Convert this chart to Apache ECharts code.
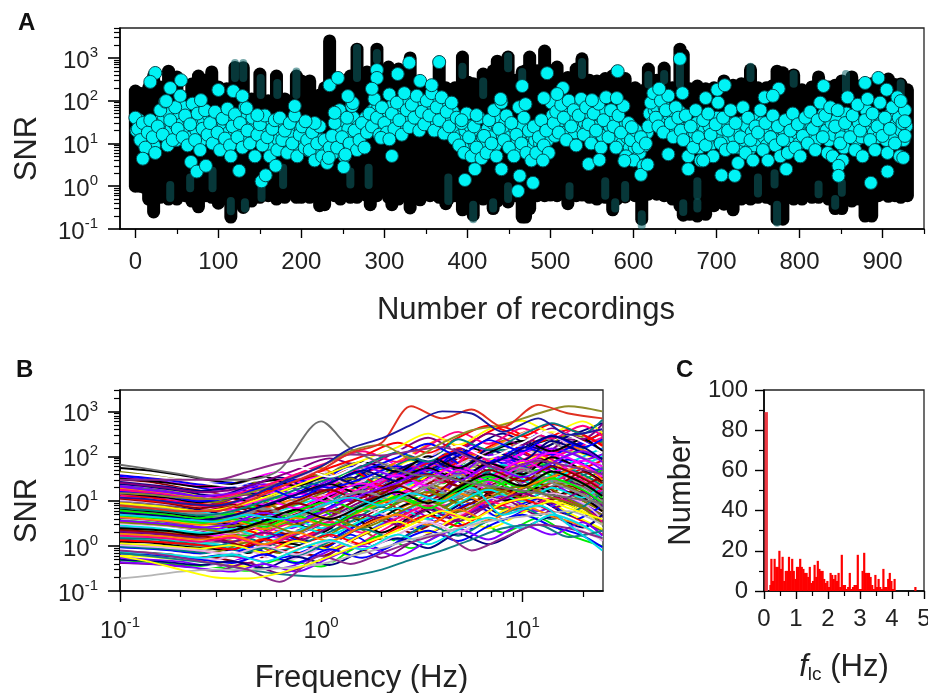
<!DOCTYPE html>
<html><head><meta charset="utf-8">
<style>html,body{margin:0;padding:0;background:#fff}#c{width:928px;height:693px}</style>
<script src="https://cdn.jsdelivr.net/npm/echarts@6/dist/echarts.min.js"></script>
</head><body><div id="c"></div>
<script>
// Panel A: envelope of the dense dark marker columns (x, lowest, highest marker)
const columnX=[0,5,10,16,22,30,40,50,60,68,76,85,92,100,110,115,120,130,140,150,160,170,180,194,200,210,222,228,234,240,247,259,267,279,283,291,305,309,317,331,343,355,366,374,377,385,394,401,407,419,431,436,449,458,466,470,475,484,493,500,508,521,531,538,547,556,566,575,580,590,602,610,618,628,637,647,656,660,668,677,687,697,709,720,730,741,750,760,767,773,780,793,803,815,823,835,843,851,863,872,879,887,895,907,915,922,930];
const columnLow=[1,1,.95,.5,.25,.55,.5,.5,.6,.45,.33,.6,.55,.4,.5,.19,.55,.32,.45,.55,.6,.5,.55,.55,.55,.55,.35,.37,.7,.6,.5,.55,.55,.6,.37,.6,.55,.37,.5,.31,.48,.6,.55,.39,.5,.6,.28,.4,.21,.5,.3,.45,.43,.6,.19,.19,.3,.6,.6,.62,.6,.39,.6,.62,.55,.5,.55,.28,.5,.56,.6,.17,.65,.65,.6,.5,.35,.21,.22,.2,.22,.35,.38,.28,.5,.5,.55,.55,.5,.17,.17,.5,.5,.55,.55,.5,.3,.3,.45,.5,.2,.2,.6,.58,.6,.55,.6];
const columnHigh=[168,150,145,200,380,210,490,360,122,245,375,300,470,210,190,190,600,590,110,420,100,375,110,375,290,290,135,200,2500,300,245,375,1600,470,300,1600,610,500,550,1000,270,200,800,200,145,200,1050,270,250,420,500,840,1050,300,470,500,1050,500,1450,500,610,350,550,950,300,290,330,380,470,330,200,170,550,300,580,200,1600,1200,190,220,190,200,290,230,250,525,200,200,220,490,450,400,180,210,360,210,230,290,360,220,220,250,320,320,240,245,180];
// Panel A: dark teal stretches visible inside the black mass
const tealX=[120,130,151,171,194,42,93,66,152,178,115,132,267,291,394,377,281,259,407,419,449,449,431,466,538,523,590,566,578,610,618,637,656,660,677,677,741,750,773,793,843,851,856,922,823,770];
const tealLow=[340,340,136,136,136,.53,.9,.9,.53,1.07,.26,.3,340,900,400,.45,1.07,1.1,.17,136,570,.5,.3,300,400,.6,.53,.6,.3,.12,240,300,240,.25,.3,.6,340,.68,.14,250,.35,.7,180,136,.65,1.1];
const tealHigh=[760,760,340,260,480,1.07,2.3,1.6,1.1,2.7,.45,.42,1700,1300,620,1.6,2.7,2.2,.37,280,1100,1,.42,470,800,1,1.07,1.3,.42,.22,400,420,760,.4,.42,1.3,620,1.6,.37,420,.5,1.2,420,260,1.1,2];
// Panel A: cyan markers, one every 3 recordings, in two interleaved runs
const cyanStep=3;
const cyanValues=[
40,22,12,30,8,18,35,14,6,25,
60,16,95,9,35,12,70,22,130,14,
45,9,28,85,12,50,7,22,60,16,
30,10,55,18,7,38,13,65,9,25,
48,14,30,8,70,20,10,40,5,16,
28,9,45,14,5,22,35,7,40,12,
20,6,30,10,45,5,16,25,8,12,
7,18,4,10,25,5,12,3.5,8,15,
30,8,60,14,5,40,10,75,20,7,
12,30,8,18,50,25,110,40,16,70,
30,18,140,50,22,90,35,16,150,60,
24,80,40,130,20,55,28,100,45,150,
20,70,35,120,17,55,25,90,13,40,
9,30,6,50,14,5,25,8,40,4.5,
15,6,35,10,60,5,22,90,12,45,
8,30,5,16,70,10,40,6,20,4,
25,6,14,35,9,20,6,90,30,55,
18,80,40,12,100,25,60,9,45,110,
16,70,28,10,50,20,85,8,35,120,
14,60,25,8,45,18,75,5,30,12,
4,20,8,14,3,10,25,90,150,40,
25,100,18,60,130,30,14,70,40,20,
12,45,5,25,8,60,14,4,35,9,
50,16,5,28,90,10,40,7,20,60,
8,30,3.5,14,70,6,40,12,4,25,
18,60,7,30,4,14,45,9,25,5,
12,35,6,20,50,8,28,5,15,40,
10,55,22,7,35,90,14,45,6,70,
5,25,60,10,4,30,120,14,45,7,
80,20,5,35,110,12,50,7,25,90,
15,40,6,22,70,10,120,5,30,60];
const cyanValuesMid=[
20,35,15,10,28,12,22,9,16,32,
25,40,18,50,22,30,12,45,28,70,
20,35,14,40,20,30,12,35,18,45,
20,35,12,28,14,25,40,18,30,15,
22,35,16,45,12,28,18,30,12,35,
15,25,12,30,9,18,28,12,20,30,
12,22,9,16,28,8,22,12,18,7,
12,8,15,6,12,9,7,5,10,6,
15,25,10,35,12,22,14,40,10,25,
18,30,40,25,30,60,35,70,25,45,
40,55,30,80,35,60,25,75,40,90,
35,60,28,70,35,100,45,65,30,80,
35,60,28,70,30,45,20,55,25,22,
15,12,20,10,25,12,9,18,7,14,
10,22,14,30,9,25,40,15,30,18,
14,9,22,12,8,25,14,10,8,15,
12,20,10,8,18,12,30,45,15,35,
25,35,18,60,30,45,18,70,25,40,
30,22,50,18,35,25,45,15,55,30,
25,40,12,20,30,10,25,14,8,18,
8,14,6,12,9,18,50,30,60,70,
40,30,70,35,45,60,25,35,55,30,
22,14,25,10,18,30,8,12,20,14,
25,10,18,40,12,22,9,30,14,28,
14,20,8,30,12,25,7,18,9,35,
12,30,14,9,22,28,10,16,12,22,
20,12,25,35,14,18,10,30,22,12,
18,25,40,12,22,30,50,20,12,30,
16,35,22,14,8,50,30,20,25,12,
30,14,20,60,25,35,18,40,14,30,
25,12,35,50,16,28,40,20,12,25];
// Panel A: individually readable cyan markers
const cyanOutX=[24,18,55,37,42,100,118,129,134,147,79,192,216,205,9,67,74,85,125,152,157,169,115,234,244,262,256,240,291,291,316,285,330,366,343,357,309,296,306,251,253,233,397,409,441,461,463,466,470,440,411,393,496,515,508,492,550,581,580,479,546,559,589,609,617,642,666,684,631,656,659,687,701,710,491,598,829,879,895,905,775,758,768,886,906,784,847,847,925,927,927,922,706,722];
const cyanOutY=[444,275,300,98,198,178,167,128,67,46,103,75,30,33,4.4,3.7,2.2,3,2.3,1.3,1.8,3,5,230,340,88,128,52,520,340,420,190,770,800,290,230,5.1,13.5,12.5,2.8,5.5,4.6,1.4,2.5,2.5,.77,1.75,220,83,110,46,35,440,198,143,115,103,490,115,1.2,3.3,4.1,3.9,1.85,3.2,5.6,2.5,4,190,950,150,115,180,230,4,24,220,260,340,180,190,120,130,1.2,2.2,2.5,3,1.75,4.6,15,33,98,1.8,1.75];
const panelAXTicks=[0,100,200,300,400,500,600,700,800,900];
const panelAXMinor=[50,150,250,350,450,550,650,750,850,950];
const decadeTicks=[.1,1,10,100,1000];
const decadeMinor=[.2,.3,.4,.5,.6,.7,.8,.9,2,3,4,5,6,7,8,9,20,30,40,50,60,70,80,90,200,300,400,500,600,700,800,900,2000,3000,4000,5000];
// Panel B
const freqHz=[.1,.14,.2,.3,.43,.62,1,1.4,2,2.8,4,5.6,8,12,17,25];
const freqHzAlt=[.1,.17,.25,.36,.52,.75,1.1,1.6,2.4,3.4,4.8,6.8,10,14,20,25];
const freqTicks=[.1,1,10];
const freqMinor=[.2,.3,.4,.5,.6,.7,.8,.9,2,3,4,5,6,7,8,9,20];
const lineColors=['#000000','#ff0000','#00ee00','#0000ff','#00e5e5','#ff00ff','#ffff00','#808000','#000080','#800080','#900000','#008080','#ff8000','#8000ff','#ff0080','#8a8a8a','#ffffff','#e6b0e6'];
const snrLines=[
[55,48,38,28,25,30,22,50,35,90,60,150,90,200,280,120],
[45,38,30,22,28,18,40,25,70,45,120,80,220,130,300,200],
[40,34,27,20,14,24,12,30,55,28,80,40,120,70,160,90],
[35,30,24,18,25,12,28,60,22,100,50,180,70,300,150,350],
[30,27,20,15,10,22,35,14,45,25,60,110,45,90,50,25],
[28,24,19,14,20,9,16,40,70,35,140,60,250,110,200,60],
[25,21,16,12,8,15,30,18,35,80,30,55,100,60,130,80],
[22,19,15,11,16,25,10,22,12,40,90,35,65,150,70,110],
[20,18,14,10,7,12,20,45,20,55,25,90,40,70,35,18],
[18,16,12,9,14,7,18,10,25,50,100,45,170,90,240,130],
[16,14,11,8,6,11,8,20,40,18,35,70,30,55,25,12],
[14,12.5,10,7.5,11,18,35,14,30,65,28,130,60,180,85,45],
[12,11,9,7,5,9,14,7,16,35,70,32,60,25,45,22],
[11,10,8,6,9,5,12,24,11,22,50,100,210,95,160,320],
[10,9,7.5,5.5,4,7,16,30,60,28,55,24,45,80,35,15],
[9.5,8.5,7,5,7.5,13,6,13,28,13,26,60,26,48,20,8],
[9,8,6.5,5,3.5,6,11,5,11,24,12,28,65,30,70,150],
[8,7.5,6,4.5,7,4,8,18,40,85,38,75,140,60,110,220],
[7.5,6.8,5.5,4,3,5,10,22,10,20,45,20,38,16,28,11],
[7,6.2,5,3.8,5.5,9,4,9,20,42,20,40,18,35,15,6],
[6.5,5.8,4.7,3.5,2.8,4.5,9,18,8,17,8,16,35,70,130,260],
[6,5.4,4.4,3.2,5,3,6,13,26,55,110,48,95,45,85,40],
[5.5,5,4,3,2.3,3.8,7,3.5,7.5,15,32,15,28,12,22,9],
[5,4.5,3.7,2.8,4.2,7,14,6.5,13,6,13,28,12,24,10,4],
[4.6,4.1,3.4,2.6,2,3.2,2.2,5,10,22,48,22,45,100,48,24],
[4.2,3.8,3.1,2.4,3.8,2.2,4.5,9,19,9,18,38,18,34,16,7],
[3.8,3.4,2.9,2.2,1.7,3,6,2.8,6,13,6,12,25,50,24,50],
[3.4,3.1,2.6,2,3.2,1.8,3.6,7.5,16,34,16,70,32,60,28,14],
[3,2.8,2.3,1.8,1.4,2.5,1.6,3.4,7,3.4,7,14,7,13,5.5,2.5],
[2.7,2.5,2.1,1.7,2.8,1.5,3,6,12,26,12,25,11,20,9,18],
[2.4,2.2,1.9,1.5,1.2,2.2,4.5,2.2,4.5,9,20,9,18,8,15,6],
[2.2,2,1.7,1.4,2.2,1.2,2.4,5,10,5,10,22,45,22,40,80],
[2,1.9,1.6,1.3,1,1.8,1.2,2.5,5.5,12,5.5,11,5,10,4.5,2],
[1.8,1.7,1.4,1.2,1.9,1,2,4.2,2,4.2,9,18,38,17,30,12],
[1.6,1.5,1.3,1.1,.85,1.5,3,1.5,3.2,7,15,7,14,6,11,4],
[1.4,1.3,1.1,1,1.5,.8,1.7,3.5,7.5,3.5,7,15,7,14,28,55],
[1.25,1.2,1,.85,.7,1.2,.9,2,4.2,9,4.2,9,20,9,16,6],
[1.1,1.05,.95,.75,1.2,.7,1.4,3,1.4,3,6.5,14,6.5,12,5,2.2],
[1,.95,.85,.7,.55,1,2,1,2.2,5,10,22,10,18,36,15],
[.9,.85,.75,.65,1,.55,1.1,2.4,5,2.4,5,2.4,5.5,11,5,2],
[.8,.75,.68,.55,.42,.8,.6,1.3,2.8,6,13,6,12,24,10,4.5],
[.72,.68,.6,.5,.8,.45,.9,2,4,2,4,8,3.8,7.5,3,1.4],
[.62,.58,.5,.42,.35,.6,1.2,.6,1.3,2.8,6,2.8,6,12,5.5,2.4],
[.55,.5,.45,.35,.55,.32,.65,1.4,3,6.5,3,6,13,6,11,5],
[.48,.44,.38,.34,.28,.5,.35,.8,1.7,.9,2,4.5,2,4.2,1.8,1],
[.42,.4,.36,.28,.42,.25,.5,1.1,.55,1.2,2.6,5.5,11,5,9,4],
[.38,.34,.3,.36,.5,.3,.45,.35,.8,1.8,.9,2.2,4.5,9,4,2],
[33,29,24,20,30,45,20,42,90,40,85,180,80,160,70,30],
[19,17,13,11,17,28,55,24,50,110,240,105,210,420,190,90],
[13,12,9.5,8,5.5,10,24,50,22,48,100,210,450,210,390,170],
[24,21,17,13,21,34,15,34,15,32,68,150,320,150,280,550],
[8.5,7.8,6.2,4.8,8,16,32,70,30,65,28,60,125,280,130,60],
[2.9,2.6,2.2,1.9,3,5.5,2.5,5.5,12,25,55,24,50,22,45,100],
[1.5,1.45,1.2,1,.75,1.3,3,6.5,14,30,13,28,60,28,50,22],
[6.8,6,5,3.6,2.6,4.5,2,4.5,2,4.5,10,22,10,20,8.5,3.5],
[16.5,15,12,9.5,15,7,15,32,15,32,14,30,14,25,11,5],
[3.6,3.3,2.7,2.1,1.5,2.7,5.5,12,26,60,26,120,55,110,50,20],
[.95,.9,.8,.6,.9,1.8,.85,1.8,.85,2,4.2,9,4,8,3.5,8],
[2.3,2.1,1.8,1.5,1,2,.95,2,4.4,2,4.2,9,18,8.5,16,35],
[10.5,9.5,8,6.5,10,22,48,22,46,20,42,90,190,420,200,420]];
// Panel B: lines sampled on the offset frequency grid
const snrLinesAlt=[
[38,30,24,26,18,30,20,32,60,40,130,70,160,110,200,140],
[27,21,17,20,13,22,35,22,50,85,50,140,80,220,120,90],
[21,16,13,15,24,14,30,60,35,75,40,110,60,150,90,50],
[15,12,9.5,12,8,14,24,14,30,55,30,70,40,95,50,28],
[12.5,10,8,6.5,11,7,14,25,15,32,60,35,80,45,80,60],
[9.2,7.5,6,7.5,5,9,6,12,22,13,30,16,35,20,45,25],
[7.8,6.3,5,4,6.5,4.5,9,16,10,22,12,28,55,30,20,10],
[6.2,5,4.2,5.2,3.4,6,10,6,13,8,18,35,20,45,25,12],
[5.2,4.4,3.4,2.8,4.5,3,6,4,9,16,9,20,12,26,15,7],
[4.4,3.6,3,3.6,2.4,4.2,2.8,6,11,7,15,9,20,35,60,30],
[3.2,2.8,2.3,1.9,3,2,4,7,4.2,9,5,12,7,15,9,4],
[2.6,2.2,1.9,2.4,1.6,2.8,1.8,3.8,7,4,9,18,10,20,12,24],
[2.1,1.8,1.5,1.25,2,1.3,2.6,5,3,6.5,3.6,8,15,9,16,8],
[1.7,1.5,1.25,1.55,1.05,1.9,3.4,2,4.2,8,4.6,10,6,12,7,3.5],
[1.35,1.2,1.05,.85,1.4,.9,1.8,1.1,2.5,4.8,2.8,6,11,6,3.5,1.8],
[1.15,1,.88,1.05,.72,1.3,.85,1.8,3.5,2,4.4,2.5,5.5,10,6,3],
[.98,.86,.72,.6,.95,.62,1.25,2.4,1.4,3,1.7,3.8,7,4,7.5,16],
[.85,.74,.62,.75,.5,.9,1.5,.95,2,3.6,2.1,4.6,2.7,5.5,3.2,1.6],
[.68,.6,.5,.42,.65,.42,.85,.55,1.2,2.2,1.3,2.8,5,2.8,1.7,.95],
[.5,.44,.38,.46,.32,.58,.38,.8,1.5,.9,1.9,1.1,2.4,4.5,2.6,5],
[.44,.38,.32,.27,.4,.27,.55,1,.6,1.3,2.4,1.4,3,1.8,3.4,1.7],
[32,26,21,24,35,22,42,75,45,100,55,120,220,130,240,130],
[17.5,14,11,13,8.5,15,9.5,20,38,22,50,28,65,120,65,35],
[11.5,9,7,8.5,5.8,10,18,10,22,40,22,50,28,60,32,18],
[8.2,6.6,5.4,4.4,7,4.6,9,17,10,21,38,21,48,26,14,7],
[4.8,4,3.3,4,2.7,4.7,3,6.5,12,7,15,30,16,32,18,9],
[3.4,2.9,2.4,2,3.1,2,4.2,2.6,5.5,10,5.8,12,22,12,7,3],
[1.9,1.65,1.4,1.7,1.1,2,1.3,2.8,5,3,6.5,3.7,8,4.6,2.8,1.4],
[1.05,.92,.8,.66,1,.65,1.3,.85,1.8,3.4,2,4.2,2.5,5,2.9,1.3],
[.75,.66,.55,.65,.45,.8,1.35,.85,1.8,1.1,2.3,4.3,2.5,5,2.9,1.5],
[26,20,16,18,28,50,90,60,130,260,140,320,180,420,240,520],
[18,14,11,14,22,40,75,130,75,170,350,190,420,250,480,280],
[12,9.5,8,9.5,16,28,55,100,200,120,260,480,280,520,300,180],
[9,7.4,6,7.5,12,22,42,80,160,320,180,400,620,350,600,330],
[7,5.8,4.8,6,10,18,32,60,120,75,240,140,300,550,320,650],
[42,33,26,22,34,60,35,70,140,85,170,95,200,380,210,120],
[16,13,10,12,20,12,26,48,95,190,105,230,130,290,160,240],
[5.5,4.6,3.8,4.8,8,14,25,48,28,60,120,70,150,280,160,85],
[3.7,3.1,2.6,3.2,5.5,3.5,7,14,26,50,28,60,34,70,130,75],
[2.5,2.2,1.8,2.2,3.6,6.5,4,8,16,9,20,40,22,46,25,13]];
// Panel B: the lines that stand out at the edges of the bundle
const edgeLines=[
[65,52,40,30,30,50,600,150,70,40,35,25,20,15,12,9],
[30,30,30,30,45,70,100,110,105,130,160,90,50,80,60,40],
[.7,.6,.5,.4,.3,.24,.21,.22,.3,.5,.8,1.4,2.5,3,1.6,2.2],
[.19,.22,.27,.3,.3,.32,.4,.6,.9,1.4,2,3,4,5,6,3],
[15,14,12,11,15,25,60,130,180,90,200,380,500,900,1300,1000],
[8,7,6,6,10,20,50,120,200,1300,700,1100,450,1400,900,700],
[12,11,9,8,12,25,60,150,250,500,1000,900,350,700,300,400],
[.8,.7,.55,.4,.3,.16,.6,.4,.7,1.2,1.8,.8,1.5,3,2.5,1.5],
[.6,.45,.3,.2,.19,.25,.5,.9,1.6,3,6,4,9,12,7,4],
[5,4.5,4,3.5,5,4,8,12,8,15,10,20,5,8,3,.8]];
const edgeColors=['#6e6e6e','#8a2a8a','#117f86','#b5b5b5','#8c8c28','#e03020','#1a1aa0','#8a2a8a','#ffff00','#00d8e8'];
// Panel C
const firstBinX=[.07];
const firstBinCount=[89];
const binX=[.22,.25,.3,.35,.4,.45,.5,.55,.6,.65,.7,.75,.8,.85,.9,.95,1,1.05,1.1,1.15,1.2,1.25,1.3,1.35,1.4,1.45,1.5,1.55,1.6,1.65,1.7,1.75,1.8,1.85,1.9,1.95,2,2.05,2.1,2.15,2.2,2.25,2.3,2.35,2.4,2.45,2.5,2.55,2.6,2.65,2.7,2.75,2.8,2.85,2.9,2.95,3,3.05,3.1,3.15,3.2,3.25,3.3,3.35,3.4,3.45,3.5,3.55,3.6,3.65,3.7,3.75,3.8,3.85,3.9,3.95,4,4.05,4.1,4.75];
const binCount=[3,16,5,16,12,12,20,11,17,5,10,10,17,10,16,10,6,12,12,16,12,11,9,9,7,12,4,5,13,7,15,11,10,10,6,4,5,2,9,8,6,8,5,9,2,18,3,3,1,2,9,1,2,3,3,18,1,1,10,19,9,9,9,7,3,1,8,2,6,2,1,11,2,2,6,9,5,1,6,2];

const ink='#222222';
const fam='"Liberation Sans",Arial,sans-serif';
const powerLabel=v=>'{b|10}{s|'+Math.round(Math.log10(v))+'}';
const powerRich={b:{fontSize:24,fontFamily:fam,color:ink,padding:[6,0,0,0]},s:{fontSize:15,fontFamily:fam,color:ink,padding:[0,0,10,0]}};
const lineStyle={color:'#000',width:1.6};
const nameStyle={fontSize:31,fontFamily:fam,color:ink};

function logY(grid,name,vals,max){return {type:'log',logBase:10,gridIndex:grid,min:.1,max:max,position:'left',name:name,nameLocation:'middle',nameGap:77,nameRotate:90,
 nameTextStyle:{fontSize:31,fontFamily:fam,color:ink,padding:[0,40,0,0]},splitLine:{show:false},axisLine:{show:true,onZero:false,lineStyle},
 axisTick:{show:true,length:12,lineStyle:{color:'#000',width:1.6},customValues:vals},minorTick:{show:false},
 axisLabel:{show:true,margin:22,customValues:vals,formatter:powerLabel,rich:powerRich}};}
function minorAxis(type,grid,vals,len,extra){return Object.assign({type,gridIndex:grid,splitLine:{show:false},axisLine:{show:false,onZero:false},
 axisTick:{show:true,length:len,lineStyle:{color:'#000',width:1.2},customValues:vals},axisLabel:{show:false},minorTick:{show:false}},extra);}

const xAxis=[
 {type:'value',gridIndex:0,min:-18.5,max:950,position:'bottom',name:'Number of recordings',nameLocation:'middle',nameGap:66,nameTextStyle:Object.assign({padding:[0,0,0,8]},nameStyle),
  splitLine:{show:false},axisLine:{show:true,onZero:false,lineStyle},axisTick:{show:true,length:9,lineStyle:{color:'#000',width:1.4},customValues:panelAXTicks},
  axisLabel:{show:true,margin:21,fontSize:24,fontFamily:fam,color:ink,customValues:panelAXTicks}},
 minorAxis('value',0,panelAXMinor,5,{min:-18.5,max:950,position:'bottom'}),
 {type:'log',logBase:10,gridIndex:1,min:.1,max:25.2,position:'bottom',name:'Frequency (Hz)',nameLocation:'middle',nameGap:72,nameTextStyle:nameStyle,
  splitLine:{show:false},axisLine:{show:true,onZero:false,lineStyle},axisTick:{show:true,length:11,lineStyle:{color:'#000',width:1.4},customValues:freqTicks},
  axisLabel:{show:true,margin:22,customValues:freqTicks,formatter:powerLabel,rich:powerRich}},
 minorAxis('log',1,freqMinor,6,{logBase:10,min:.1,max:25.2,position:'bottom'}),
 {type:'value',gridIndex:2,min:0,max:5,interval:1,position:'bottom',name:'{i|f}{sub|lc}{n| (Hz)}',nameLocation:'middle',nameGap:60,
  nameTextStyle:{rich:{i:{fontSize:31,fontStyle:'italic',fontFamily:fam,color:ink},sub:{fontSize:19,fontFamily:fam,color:ink,padding:[14,0,0,0]},n:{fontSize:31,fontFamily:fam,color:ink}}},
  splitLine:{show:false},axisLine:{show:true,onZero:false,lineStyle},axisTick:{show:true,length:8,lineStyle:{color:'#000',width:1.4}},
  minorTick:{show:true,splitNumber:2,length:5,lineStyle:{color:'#000',width:1.2}},
  axisLabel:{show:true,margin:16,fontSize:24,fontFamily:fam,color:ink,hideOverlap:false,showMaxLabel:true,showMinLabel:true}}
];
const yAxis=[
 logY(0,'SNR',decadeTicks,5000),
 minorAxis('log',0,decadeMinor,6,{logBase:10,min:.1,max:5000,position:'left'}),
 logY(1,'SNR',decadeTicks,3000),
 minorAxis('log',1,decadeMinor.slice(0,-2),6,{logBase:10,min:.1,max:3000,position:'left'}),
 {type:'value',gridIndex:2,min:0,max:100,interval:20,position:'left',name:'Number',nameLocation:'middle',nameGap:67,nameTextStyle:{fontSize:31,fontFamily:fam,color:ink},
  splitLine:{show:false},axisLine:{show:true,onZero:false,lineStyle},axisTick:{show:true,length:9,lineStyle:{color:'#000',width:1.4}},
  minorTick:{show:true,splitNumber:2,length:5,lineStyle:{color:'#000',width:1.2}},
  axisLabel:{show:true,margin:16,fontSize:24,fontFamily:fam,color:ink}}
];

function capsule(color,width,alpha){return (params,api)=>{
  const x=api.value(0),a=api.coord([x,api.value(1)]),b=api.coord([x,api.value(2)]);
  return {type:'line',shape:{x1:a[0],y1:a[1],x2:b[0],y2:b[1]},style:{stroke:color,lineWidth:width,lineCap:'round',fill:null,opacity:alpha}};
};}
const cyanStyle={color:'#00f3f5',borderColor:'#04484e',borderWidth:1,opacity:1};
const series=[
 {type:'custom',name:'columns',xAxisIndex:0,yAxisIndex:0,renderItem:capsule('#000',13,1),encode:{x:0,y:[1,2]},silent:true,clip:false,z:2,
  data:columnX.map((x,i)=>[x,columnLow[i],columnHigh[i]])},
 {type:'custom',name:'teal',xAxisIndex:0,yAxisIndex:0,renderItem:capsule('#0c6468',8,.55),encode:{x:0,y:[1,2]},silent:true,clip:false,z:3,
  data:tealX.map((x,i)=>[x,tealLow[i],tealHigh[i]])},
 {type:'scatter',name:'cyan mid',xAxisIndex:0,yAxisIndex:0,symbolSize:13,z:4,silent:true,itemStyle:cyanStyle,
  data:cyanValuesMid.map((v,i)=>[i*cyanStep+1.5,v])},
 {type:'scatter',name:'cyan',xAxisIndex:0,yAxisIndex:0,symbolSize:13,z:4,silent:true,itemStyle:cyanStyle,
  data:cyanValues.map((v,i)=>[i*cyanStep,v])},
 {type:'scatter',name:'cyan outliers',xAxisIndex:0,yAxisIndex:0,symbolSize:13,z:5,silent:true,itemStyle:cyanStyle,
  data:cyanOutX.map((x,i)=>[x,cyanOutY[i]])}
];
const addLine=(vals,grid,color,z)=>series.push({type:'line',xAxisIndex:2,yAxisIndex:2,showSymbol:false,smooth:.3,silent:true,z,
  lineStyle:{width:1.9,color},data:vals.map((v,j)=>[grid[j],v])});
snrLines.forEach((vals,i)=>addLine(vals,freqHz,lineColors[(i*7)%lineColors.length],2));
snrLinesAlt.forEach((vals,i)=>addLine(vals,freqHzAlt,lineColors[(i*5+3)%lineColors.length],2));
edgeLines.forEach((vals,i)=>addLine(vals,freqHz,edgeColors[i],3));
series.push({type:'bar',xAxisIndex:4,yAxisIndex:4,barWidth:2.2,barGap:'-100%',silent:true,z:3,itemStyle:{color:'#ff0000'},data:binX.map((x,i)=>[x,binCount[i]])});
series.push({type:'bar',xAxisIndex:4,yAxisIndex:4,barWidth:3.4,barGap:'-100%',silent:true,z:3,itemStyle:{color:'#ee3a44'},data:firstBinX.map((x,i)=>[x,firstBinCount[i]])});

const frame={show:true,borderColor:'#222',borderWidth:1.3,backgroundColor:'transparent',outerBoundsMode:'none',containLabel:false};
const letter=(t,l,tp)=>({text:t,left:l,top:tp,textStyle:{fontSize:24,fontWeight:'bold',fontFamily:fam,color:'#111'},padding:0});
const chart=echarts.init(document.getElementById('c'),null,{renderer:'canvas'});
chart.setOption({animation:false,backgroundColor:'#fff',
 title:[letter('A',18,11),letter('B',16,358),letter('C',676,358)],
 tooltip:{show:false},legend:{show:false},
 grid:[Object.assign({left:120,top:28,width:804,height:201},frame),Object.assign({left:120,top:390,width:483,height:201},frame),Object.assign({left:764,top:390,width:160,height:201},frame)],
 xAxis,yAxis,series});
</script></body></html>
